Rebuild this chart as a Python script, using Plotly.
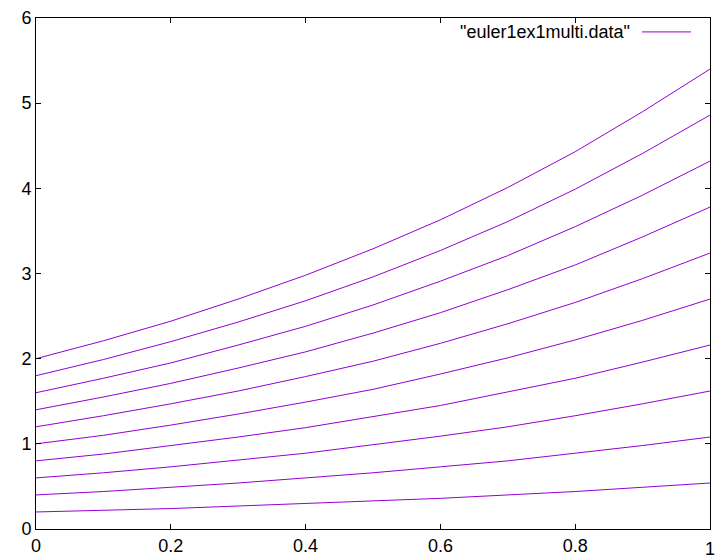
import plotly.graph_objects as go

# Sample points along t for each solution curve
t = [0.0, 0.1, 0.2, 0.3, 0.4, 0.5, 0.6, 0.7, 0.8, 0.9, 1.0]

# Solution curves, one per initial value y(0)
y_020 = [0.20, 0.22, 0.24, 0.27, 0.30, 0.33, 0.36, 0.40, 0.44, 0.49, 0.54]
y_040 = [0.40, 0.44, 0.49, 0.54, 0.60, 0.66, 0.73, 0.80, 0.89, 0.98, 1.08]
y_060 = [0.60, 0.66, 0.73, 0.81, 0.89, 0.99, 1.09, 1.20, 1.33, 1.47, 1.62]
y_080 = [0.80, 0.88, 0.98, 1.08, 1.19, 1.32, 1.45, 1.61, 1.77, 1.96, 2.16]
y_100 = [1.00, 1.10, 1.22, 1.35, 1.49, 1.64, 1.82, 2.01, 2.22, 2.45, 2.70]
y_120 = [1.20, 1.33, 1.47, 1.62, 1.79, 1.97, 2.18, 2.41, 2.66, 2.94, 3.24]
y_140 = [1.40, 1.55, 1.71, 1.89, 2.08, 2.30, 2.54, 2.81, 3.10, 3.43, 3.78]
y_160 = [1.60, 1.77, 1.95, 2.16, 2.38, 2.63, 2.91, 3.21, 3.55, 3.92, 4.32]
y_180 = [1.80, 1.99, 2.20, 2.43, 2.68, 2.96, 3.27, 3.61, 3.99, 4.41, 4.86]
y_200 = [2.00, 2.21, 2.44, 2.70, 2.98, 3.29, 3.63, 4.01, 4.43, 4.90, 5.40]

curves = [y_020, y_040, y_060, y_080, y_100, y_120, y_140, y_160, y_180, y_200]

x_ticks = [0, 0.2, 0.4, 0.6, 0.8, 1]
x_labels = ["0", "0.2", "0.4", "0.6", "0.8", "1"]
y_ticks = [0, 1, 2, 3, 4, 5, 6]
y_labels = ["0", "1", "2", "3", "4", "5", "6"]

legend_text = '"euler1ex1multi.data"'
line_color = "#9400D3"

# All curves go into one trace, separated by gaps (like blank lines in a data file)
xs, ys = [], []
for c in curves:
    xs += t + [None]
    ys += c + [None]

fig = go.Figure()
fig.add_trace(go.Scatter(x=xs, y=ys, mode="lines",
                         line=dict(color=line_color, width=1),
                         connectgaps=False, showlegend=False,
                         name=legend_text))

font = dict(family="Liberation Sans, Arial, sans-serif", size=18, color="#000000")

axis_common = dict(showgrid=False, zeroline=False, showline=True,
                   linecolor="#000000", linewidth=1, mirror="allticks",
                   ticks="inside", ticklen=5, tickcolor="#000000", tickwidth=1,
                   tickfont=font)

fig.update_xaxes(range=[0, 1], tickvals=x_ticks, ticktext=x_labels, **axis_common)
fig.update_yaxes(range=[0, 6], tickvals=y_ticks, ticktext=y_labels, **axis_common)

# The last x label sits at the page edge, so it is placed as an annotation
# (plotly drops tick labels that overflow the figure)
fig.add_annotation(xref="x", yref="paper", x=x_ticks[-1], y=0, yshift=-8,
                   text=x_labels[-1], showarrow=False, xanchor="center",
                   yanchor="top", font=font)

# Key: label text followed by a line sample, in the upper right corner
fig.add_annotation(xref="paper", yref="paper", x=(633 - 36) / 675, y=(532 - 32) / 514,
                   text=legend_text, showarrow=False, xanchor="right", yanchor="middle",
                   font=font)
fig.add_shape(type="line", xref="paper", yref="paper",
              x0=(643 - 36) / 675, x1=(692 - 36) / 675,
              y0=(532 - 32) / 514, y1=(532 - 32) / 514,
              line=dict(color=line_color, width=1))

fig.update_layout(width=715, height=560,
                  margin=dict(l=36, r=4, t=18, b=28),
                  paper_bgcolor="#ffffff", plot_bgcolor="#ffffff",
                  font=font)

fig.write_html("out.html")
